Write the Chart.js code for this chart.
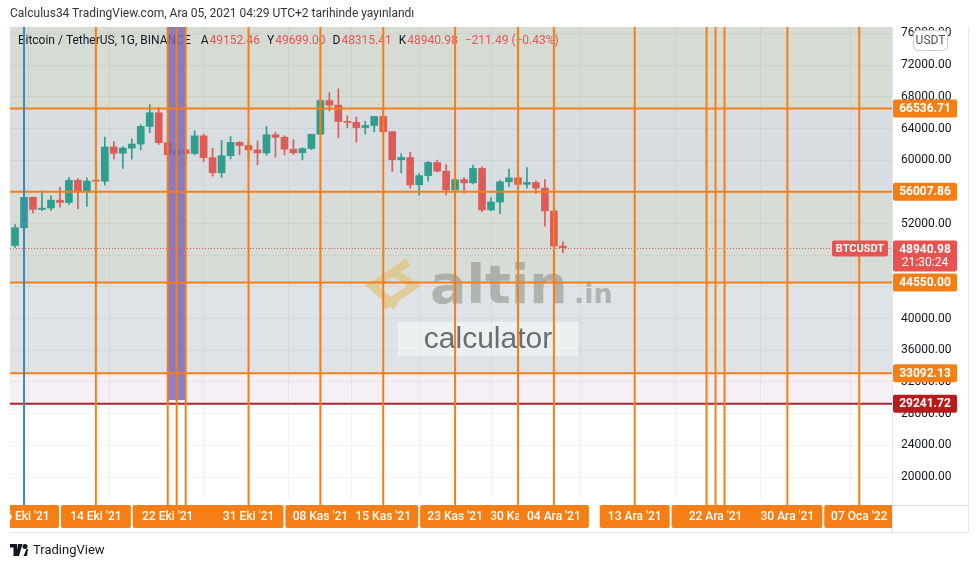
<!DOCTYPE html>
<html>
<head>
<meta charset="utf-8">
<title>BTCUSDT 1G</title>
<script src="https://cdn.jsdelivr.net/npm/chart.js@4.4.0/dist/chart.umd.min.js"></script>
<style>
  body { margin: 0; background: #fff; font-family: Roboto, 'Noto Sans', sans-serif; }
  #wrap { position: absolute; left: 0; top: 0; width: 978px; height: 568px; }
  #title { position: absolute; left: 10px; top: 6px; font-size: 12px; color: #333; z-index: 2; white-space: nowrap; }
  #footer { position: absolute; left: 10px; top: 542px; font-size: 13px; color: #131722; z-index: 2; display: flex; align-items: center; }
  #footer svg { margin-right: 5px; }
</style>
</head>
<body>
<div id="wrap"><canvas id="btcChart" width="978" height="568"></canvas></div>
<div id="title">Calculus34 TradingView.com, Ara 05, 2021 04:29 UTC+2 tarihinde yayınlandı</div>
<div id="footer">
  <svg width="18" height="12" viewBox="0 0 36 24"><path d="M0 0h14v24H7V7H0z M16 0h9l-7 24h-6z" fill="#131722"/><circle cx="30" cy="5" r="5" fill="#131722"/><path d="M27 24l6-14h3l-2 14z" fill="#131722"/></svg>
  <span>TradingView</span>
</div>
<script>
// daily candles BTCUSDT (Binance)
const days = ['2021-10-05','2021-10-06','2021-10-07','2021-10-08','2021-10-09','2021-10-10','2021-10-11','2021-10-12','2021-10-13','2021-10-14',
  '2021-10-15','2021-10-16','2021-10-17','2021-10-18','2021-10-19','2021-10-20','2021-10-21','2021-10-22','2021-10-23','2021-10-24',
  '2021-10-25','2021-10-26','2021-10-27','2021-10-28','2021-10-29','2021-10-30','2021-10-31','2021-11-01','2021-11-02','2021-11-03',
  '2021-11-04','2021-11-05','2021-11-06','2021-11-07','2021-11-08','2021-11-09','2021-11-10','2021-11-11','2021-11-12','2021-11-13',
  '2021-11-14','2021-11-15','2021-11-16','2021-11-17','2021-11-18','2021-11-19','2021-11-20','2021-11-21','2021-11-22','2021-11-23',
  '2021-11-24','2021-11-25','2021-11-26','2021-11-27','2021-11-28','2021-11-29','2021-11-30','2021-12-01','2021-12-02','2021-12-03',
  '2021-12-04','2021-12-05'];
const opens = [49220,51471,55315,53785,53955,54950,54659,57471,55996,57370,
  57347,61672,60875,61528,62036,64262,65992,62210,60694,61300,
  60852,63078,60328,58413,60575,62253,61859,61300,60911,63220,
  62896,61395,60940,61470,63273,67525,66947,64883,64774,64123,
  64380,65519,63606,60059,60345,56892,58057,59707,58617,56247,
  57542,57138,58960,53723,54717,57274,57777,56951,57185,56485,
  53602,49152.46];
const highs = [51886,55750,55332,56100,55490,56561,57839,57680,57777,58532,
  62933,62378,61718,62695,64486,66999,66639,63733,61747,61490,
  63710,63293,61496,62499,62980,62359,62405,62437,64270,63500,
  63086,62595,61560,63286,67789,68524,69000,65600,65450,64915,
  65550,66401,63617,60840,60977,58320,59845,60029,59444,57875,
  57800,59399,59150,55280,57445,58865,59175,59053,57375,57600,
  53859,49699.00];
const lows = [49000,50382,53357,53617,53661,54080,54415,53879,54167,56818,
  56850,60150,58963,60124,61322,63481,62000,60000,59562,59510,
  60650,59817,58000,57820,60174,60673,59945,59405,60624,60382,
  60677,60721,60050,61322,63273,66222,62822,64100,62278,63303,
  63576,63400,58574,58373,56474,55600,57353,58486,55610,55317,
  55837,57000,53500,53610,53256,56666,55875,56458,55777,51680,
  42000,48315.41];
const closes = [51471,55315,53785,53951,54949,54659,57471,55996,57367,57347,
  61672,60875,61528,62036,64262,65992,62210,60692,61300,60852,
  63078,60328,58413,60575,62253,61859,61300,60911,63219,62896,
  61395,60937,61470,63273,67525,66947,64882,64774,64122,64380,
  65519,63607,60059,60345,56892,58052,59707,58622,56247,57541,
  57138,58960,53726,54721,57274,57777,56950,57184,56480,53601,
  49152,48940.98];

// price scale ticks
const priceTicks = [20000, 24000, 28000, 32000, 36000, 40000, 44000, 48000, 52000, 56000, 60000, 64000, 68000, 72000, 76000];

// drawings on the chart
const levelPrices = [66536.71, 56007.86, 44550.00, 33092.13];
const supportPrice = 29241.72;
const lastPrice = 48940.98;
const lastTimer = '21:30:24';
const zoneTops = [90000, 66536.71, 56007.86, 44550.00, 33092.13];
const zoneBottoms = [66536.71, 56007.86, 44550.00, 33092.13, 29241.72];
const blueDate = '2021-10-06';
const markDates = ['2021-10-14','2021-10-22','2021-10-23','2021-10-24','2021-10-31','2021-11-08','2021-11-15','2021-11-23',
  '2021-11-30','2021-12-04','2021-12-13','2021-12-21','2021-12-22','2021-12-23','2021-12-30','2022-01-07'];
const boxFrom = '2021-10-22', boxTo = '2021-10-24', boxLow = 29722, boxHigh = 90000;
// time axis labels, in the order they get painted
const timeDates = ['2021-10-06','2021-10-14','2021-10-23','2021-10-24','2021-10-22','2021-10-31','2021-11-08','2021-11-15',
  '2021-11-23','2021-11-30','2021-12-04','2021-12-13','2021-12-21','2021-12-23','2021-12-22','2021-12-30','2022-01-07'];
const timeTexts = ["06 Eki '21","14 Eki '21","","","22 Eki '21","31 Eki '21","08 Kas '21","15 Kas '21",
  "23 Kas '21","30 Kas '21","04 Ara '21","13 Ara '21","","","22 Ara '21","30 Ara '21","07 Oca '22"];
const gridDates = ['2021-10-11','2021-10-20','2021-11-01','2021-11-08','2021-11-15','2021-11-23','2021-12-01','2021-12-13','2021-12-22','2022-01-01'];
const header = ['Bitcoin / TetherUS, 1G, BINANCE', 'A', '49152.46', 'Y', '49699.00', 'D', '48315.41', 'K', '48940.98', '\u2212211.49 (\u22120.43%)'];

const UP = '#2f9e8e', DOWN = '#dd5c58', ORANGE = '#f57f17';
const zoneColors = ['#d6dbd3', '#d7dde0', '#d8dcd6', '#dde3e6', '#f6f0f6'];

const dayNum = d => (Date.parse(d) - Date.parse('2021-10-06')) / 864e5;
const candleX = days.map(dayNum);
const candleColor = closes.map((c, i) => c >= opens[i] ? UP : DOWN);

function roundBox(ctx, x, y, w, h, r) {
  ctx.beginPath();
  ctx.roundRect(x, y, w, h, r);
  ctx.fill();
}

const tvOverlay = {
  id: 'tvOverlay',
  beforeDraw(chart) {
    const { ctx, chartArea: a, scales: { y } } = chart;
    ctx.save();
    ctx.beginPath(); ctx.rect(a.left, a.top, a.right - a.left, a.bottom - a.top); ctx.clip();
    zoneTops.forEach((t, i) => {
      const y1 = y.getPixelForValue(t), y2 = y.getPixelForValue(zoneBottoms[i]);
      ctx.fillStyle = zoneColors[i];
      ctx.fillRect(a.left, y1, a.right - a.left, y2 - y1);
    });
    ctx.restore();
  },
  beforeDatasetsDraw(chart) {
    const { ctx, chartArea: a } = chart;
    ctx.save();
    // header
    ctx.font = '12px Roboto';
    ctx.textBaseline = 'middle';
    let hx = a.left + 8;
    header.forEach((t, i) => {
      ctx.fillStyle = (i === 0 || i % 2 === 1) && i < 9 ? '#131722' : '#ef5350';
      ctx.fillText(t, hx, a.top + 14);
      hx += ctx.measureText(t).width + (i === 0 ? 10 : (i % 2 === 1 ? 1 : 7));
    });
    // watermark
    ctx.strokeStyle = 'rgba(226,186,92,0.55)';
    ctx.lineWidth = 8;
    ctx.lineJoin = 'miter';
    ctx.beginPath();
    ctx.moveTo(408, 262); ctx.lineTo(372, 286); ctx.lineTo(396, 306);
    ctx.moveTo(384, 306); ctx.lineTo(414, 286); ctx.lineTo(394, 272);
    ctx.stroke();
    ctx.fillStyle = 'rgba(140,140,130,0.55)';
    ctx.font = 'bold 54px "DejaVu Sans"';
    ctx.textBaseline = 'alphabetic';
    ctx.fillText('altin', 430, 303);
    ctx.font = 'bold 27px "DejaVu Sans"';
    ctx.fillText('.in', 574, 303);
    ctx.fillStyle = 'rgba(255,255,255,0.45)';
    ctx.fillRect(398, 322, 180, 34);
    ctx.fillStyle = '#6b6e70';
    ctx.font = '30px "Liberation Sans"';
    ctx.textAlign = 'center';
    ctx.fillText('calculator', 488, 348);
    ctx.restore();
  },
  afterDatasetsDraw(chart) {
    const { ctx, chartArea: a, scales: { x, y } } = chart;
    ctx.save();
    ctx.beginPath(); ctx.rect(a.left, a.top, a.right - a.left, a.bottom - a.top + 6); ctx.clip();
    // purple range box
    const bx1 = x.getPixelForValue(dayNum(boxFrom)), bx2 = x.getPixelForValue(dayNum(boxTo));
    const by1 = y.getPixelForValue(boxHigh), by2 = y.getPixelForValue(boxLow);
    ctx.fillStyle = 'rgba(118,101,189,0.82)';
    ctx.fillRect(bx1, by1, bx2 - bx1, by2 - by1);
    // last price dotted
    const ly = Math.round(y.getPixelForValue(lastPrice)) + 0.5;
    ctx.strokeStyle = '#ef5350'; ctx.lineWidth = 1; ctx.setLineDash([1, 2]);
    ctx.beginPath(); ctx.moveTo(a.left, ly); ctx.lineTo(a.right, ly); ctx.stroke();
    ctx.setLineDash([]);
    // horizontal levels
    ctx.lineWidth = 2;
    levelPrices.forEach(p => {
      const py = y.getPixelForValue(p);
      ctx.strokeStyle = ORANGE;
      ctx.beginPath(); ctx.moveTo(a.left, py); ctx.lineTo(a.right, py); ctx.stroke();
    });
    const sy = y.getPixelForValue(supportPrice);
    ctx.strokeStyle = '#a8262f';
    ctx.beginPath(); ctx.moveTo(a.left, sy); ctx.lineTo(a.right, sy); ctx.stroke();
    // vertical marks
    const bxBlue = x.getPixelForValue(dayNum(blueDate));
    ctx.strokeStyle = '#3f86c8';
    ctx.beginPath(); ctx.moveTo(bxBlue, a.top); ctx.lineTo(bxBlue, a.bottom + 6); ctx.stroke();
    ctx.strokeStyle = ORANGE;
    markDates.forEach(d => {
      const px = x.getPixelForValue(dayNum(d));
      ctx.beginPath(); ctx.moveTo(px, a.top); ctx.lineTo(px, a.bottom + 6); ctx.stroke();
    });
    ctx.restore();

    // BTCUSDT tag in pane
    ctx.save();
    ctx.font = 'bold 11px Roboto';
    ctx.textAlign = 'center'; ctx.textBaseline = 'middle';
    ctx.fillStyle = '#e8534f';
    roundBox(ctx, a.right - 60, ly - 8, 56, 16, 2);
    ctx.fillStyle = '#fff';
    ctx.fillText('BTCUSDT', a.right - 32, ly + 0.5);

    // time axis boxes
    ctx.beginPath(); ctx.rect(a.left, a.bottom, a.right - a.left, 40); ctx.clip();
    ctx.font = '500 12px Roboto';
    timeDates.forEach((d, i) => {
      const px = x.getPixelForValue(dayNum(d));
      ctx.fillStyle = ORANGE;
      roundBox(ctx, px - 35, a.bottom + 5, 70, 23, 2);
      if (timeTexts[i]) {
        ctx.fillStyle = '#fff';
        ctx.fillText(timeTexts[i], px, a.bottom + 17);
      }
    });
    ctx.restore();

    // price axis tags
    ctx.save();
    ctx.font = 'bold 12px Roboto';
    ctx.textAlign = 'center'; ctx.textBaseline = 'middle';
    const tx = a.right + 1, tw = 64, tc = tx + tw / 2;
    levelPrices.forEach(p => {
      const py = y.getPixelForValue(p);
      ctx.fillStyle = ORANGE;
      roundBox(ctx, tx, py - 9, tw, 18, 2);
      ctx.fillStyle = '#fff';
      ctx.fillText(p.toFixed(2), tc, py + 0.5);
    });
    ctx.fillStyle = '#b71c1c';
    roundBox(ctx, tx, sy - 9, tw, 18, 2);
    ctx.fillStyle = '#fff';
    ctx.fillText(supportPrice.toFixed(2), tc, sy + 0.5);
    ctx.fillStyle = '#e8534f';
    roundBox(ctx, tx, ly - 8, tw, 31, 2);
    ctx.fillStyle = '#fff';
    ctx.fillText(lastPrice.toFixed(2), tc, ly + 1);
    ctx.font = '12px Roboto';
    ctx.fillText(lastTimer, tc, ly + 14);
    // currency badge
    ctx.fillStyle = '#fff'; ctx.strokeStyle = '#c9ccd4'; ctx.lineWidth = 1;
    ctx.beginPath(); ctx.roundRect(913.5, a.top + 3.5, 34, 20, 4); ctx.fill(); ctx.stroke();
    ctx.fillStyle = '#50535e'; ctx.font = '12px Roboto';
    ctx.fillText('USDT', 930.5, a.top + 14);
    // frame
    ctx.strokeStyle = '#e3e5ea';
    ctx.beginPath();
    ctx.moveTo(a.right + 0.5, a.top); ctx.lineTo(a.right + 0.5, a.bottom + 32);
    ctx.moveTo(a.right, a.bottom + 5.5); ctx.lineTo(968, a.bottom + 5.5);
    ctx.moveTo(968.5, a.top); ctx.lineTo(968.5, a.bottom + 32);
    ctx.moveTo(a.left, a.bottom + 32.5); ctx.lineTo(968, a.bottom + 32.5);
    ctx.stroke();
    ctx.restore();
  }
};

const ctx = document.getElementById('btcChart').getContext('2d');
const btcChart = new Chart(ctx, {
  type: 'bar',
  data: {
    datasets: [{
      label: 'wick',
      data: days.map((d, i) => ({ x: candleX[i], y: [lows[i], highs[i]] })),
      backgroundColor: candleColor,
      barThickness: 1,
      grouped: false,
      order: 2
    }, {
      label: 'body',
      data: days.map((d, i) => ({ x: candleX[i], y: [opens[i], closes[i]] })),
      backgroundColor: candleColor,
      barThickness: 7,
      minBarLength: 1,
      grouped: false,
      order: 1
    }]
  },
  options: {
    responsive: false,
    animation: false,
    layout: { padding: { left: 10, top: 27, right: 10, bottom: 68 } },
    plugins: { legend: { display: false }, tooltip: { enabled: false } },
    scales: {
      x: {
        type: 'linear',
        min: -1.56,
        max: 96.65,
        offset: false,
        ticks: { display: false },
        grid: { color: 'rgba(42,46,57,0.05)', drawTicks: false },
        border: { display: false },
        afterBuildTicks: s => { s.ticks = gridDates.map(d => ({ value: dayNum(d) })); },
        afterFit: s => { s.height = 0; }
      },
      y: {
        position: 'right',
        min: 17096,
        max: 76818,
        ticks: {
          padding: 9,
          color: '#131722',
          font: { family: 'Roboto', size: 12 },
          callback: v => v.toFixed(2)
        },
        afterBuildTicks: s => { s.ticks = priceTicks.map(v => ({ value: v })); },
        grid: { color: 'rgba(42,46,57,0.05)', drawTicks: false },
        border: { display: false },
        afterFit: s => { s.width = 76; }
      }
    }
  },
  plugins: [tvOverlay]
});
</script>
</body>
</html>
